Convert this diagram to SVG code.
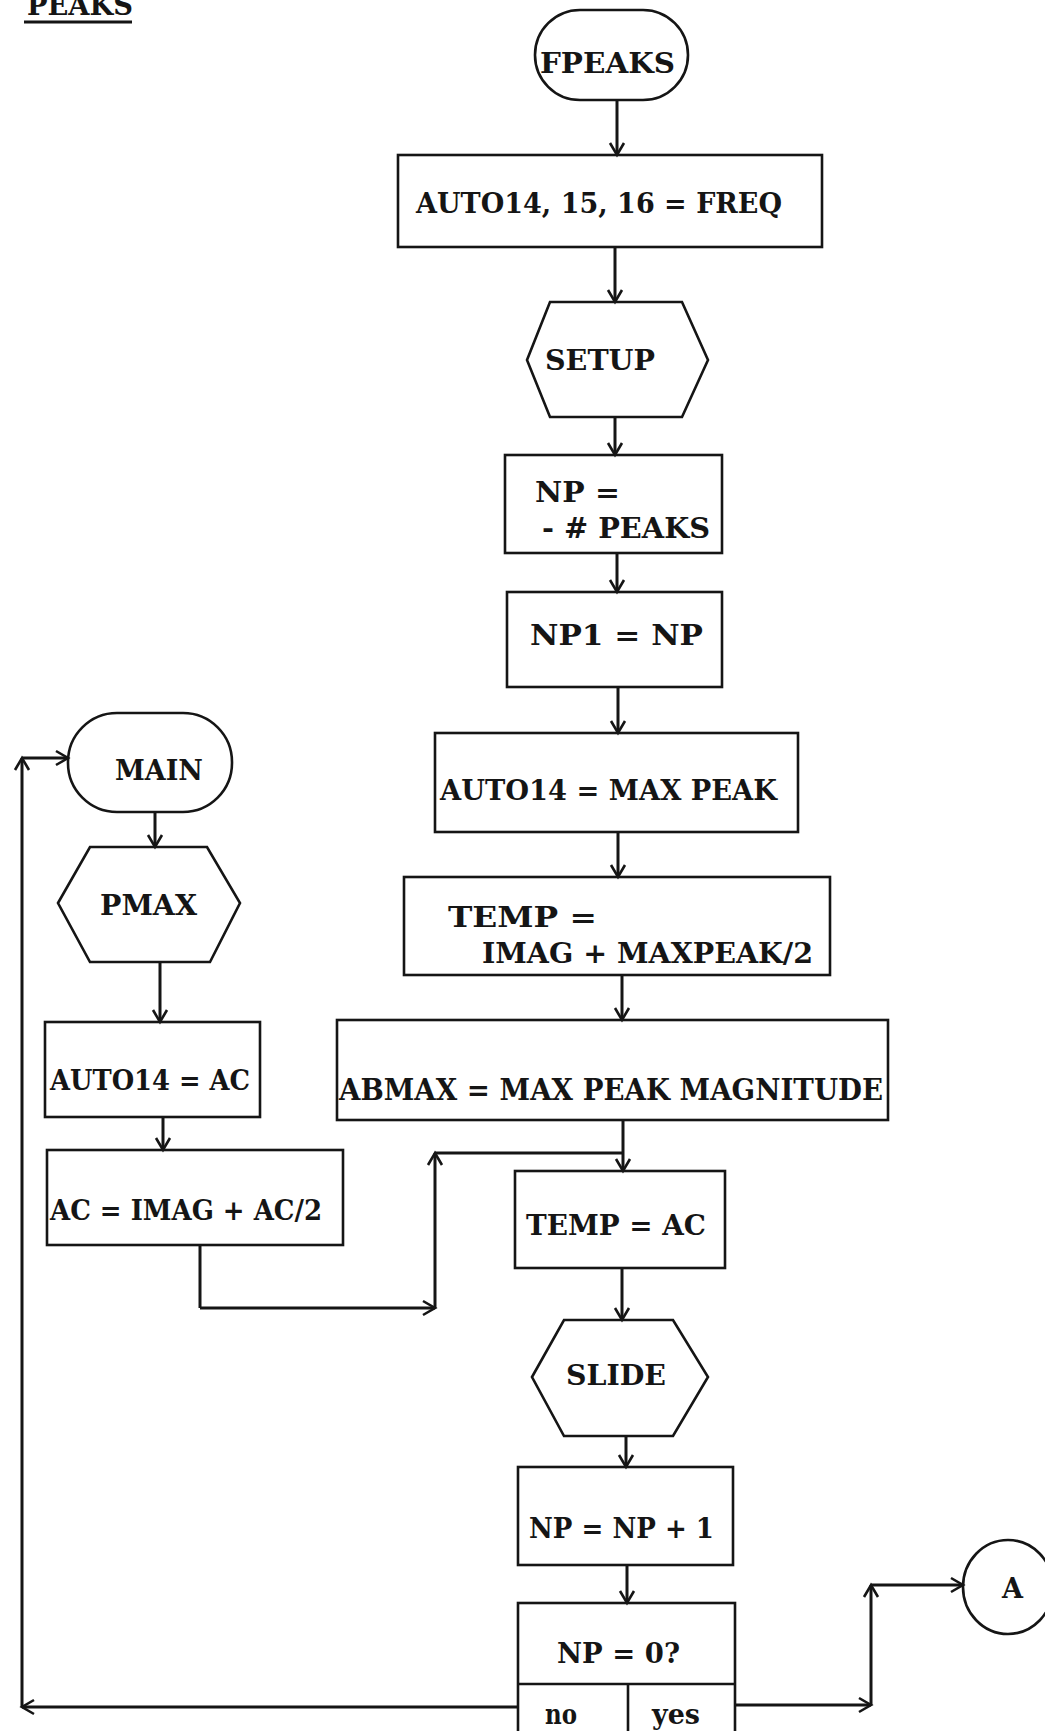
<svg xmlns="http://www.w3.org/2000/svg" width="1045" height="1731" viewBox="0 0 1045 1731">
<style>
  .shape { fill: none; stroke: #151515; stroke-width: 2.6; }
  .conn { fill: none; stroke: #151515; stroke-width: 3; }
  .arr { marker-end: url(#ah); }
  text { font-family: "DejaVu Serif", "Liberation Serif", serif; font-weight: bold; font-size: 27px; fill: #151515; }
  .big { font-size: 29px; }
</style>
<defs>
  <marker id="ah" markerUnits="userSpaceOnUse" markerWidth="16" markerHeight="16" refX="12" refY="7" orient="auto" overflow="visible">
    <path d="M0,0 L12,7 L0,14" fill="none" stroke="#151515" stroke-width="2.6"/>
  </marker>
</defs>
<rect width="1045" height="1731" fill="#ffffff"/>

<g id="title">
  <text x="27" y="15" textLength="106" lengthAdjust="spacingAndGlyphs">PEAKS</text>
  <line x1="24" y1="22" x2="132" y2="22" stroke="#151515" stroke-width="3"/>
</g>

<g id="connectors">
  <line class="conn arr" x1="617" y1="100" x2="617" y2="155"/>
  <line class="conn arr" x1="615" y1="247" x2="615" y2="302"/>
  <line class="conn arr" x1="615" y1="417" x2="615" y2="455"/>
  <line class="conn arr" x1="617" y1="553" x2="617" y2="592"/>
  <line class="conn arr" x1="618" y1="687" x2="618" y2="733"/>
  <line class="conn arr" x1="618" y1="832" x2="618" y2="877"/>
  <line class="conn arr" x1="622" y1="975" x2="622" y2="1020"/>
  <line class="conn arr" x1="623" y1="1120" x2="623" y2="1171"/>
  <polyline class="conn" points="200,1245 200,1308"/>
  <line class="conn arr" x1="200" y1="1308" x2="435" y2="1308"/>
  <line class="conn arr" x1="435" y1="1308" x2="435" y2="1153"/>
  <line class="conn" x1="435" y1="1153" x2="623" y2="1153"/>
  <line class="conn arr" x1="622" y1="1268" x2="622" y2="1320"/>
  <line class="conn arr" x1="626" y1="1436" x2="626" y2="1467"/>
  <line class="conn arr" x1="627" y1="1565" x2="627" y2="1603"/>
  <line class="conn arr" x1="518" y1="1707" x2="22" y2="1707"/>
  <line class="conn arr" x1="22" y1="1707" x2="22" y2="758"/>
  <line class="conn arr" x1="22" y1="758" x2="68" y2="758"/>
  <line class="conn arr" x1="735" y1="1705" x2="871" y2="1705"/>
  <line class="conn arr" x1="871" y1="1705" x2="871" y2="1585"/>
  <line class="conn arr" x1="871" y1="1585" x2="963" y2="1585"/>
  <line class="conn arr" x1="155" y1="812" x2="155" y2="847"/>
  <line class="conn arr" x1="160" y1="962" x2="160" y2="1022"/>
  <line class="conn arr" x1="163" y1="1117" x2="163" y2="1150"/>
</g>

<g id="fpeaks">
  <rect class="shape" x="535" y="10" width="153" height="90" rx="45" ry="45"/>
  <text x="540" y="73" textLength="135" lengthAdjust="spacingAndGlyphs">FPEAKS</text>
</g>
<g id="auto141516">
  <rect class="shape" x="398" y="155" width="424" height="92"/>
  <text x="416" y="213" textLength="366" lengthAdjust="spacingAndGlyphs">AUTO14, 15, 16 = FREQ</text>
</g>
<g id="setup">
  <polygon class="shape" points="527,360 550,302 682,302 708,360 682,417 550,417"/>
  <text x="545" y="370" textLength="110" lengthAdjust="spacingAndGlyphs">SETUP</text>
</g>
<g id="np-peaks">
  <rect class="shape" x="505" y="455" width="217" height="98"/>
  <text x="535" y="502" textLength="85" lengthAdjust="spacingAndGlyphs">NP =</text>
  <text x="542" y="538" textLength="168" lengthAdjust="spacingAndGlyphs">- # PEAKS</text>
</g>
<g id="np1">
  <rect class="shape" x="507" y="592" width="215" height="95"/>
  <text x="530" y="645" textLength="173" lengthAdjust="spacingAndGlyphs">NP1 = NP</text>
</g>
<g id="auto14-maxpeak">
  <rect class="shape" x="435" y="733" width="363" height="99"/>
  <text x="440" y="800" textLength="337" lengthAdjust="spacingAndGlyphs">AUTO14 = MAX PEAK</text>
</g>
<g id="temp-imag">
  <rect class="shape" x="404" y="877" width="426" height="98"/>
  <text x="448" y="927" textLength="149" lengthAdjust="spacingAndGlyphs">TEMP =</text>
  <text x="482" y="963" textLength="331" lengthAdjust="spacingAndGlyphs">IMAG + MAXPEAK/2</text>
</g>
<g id="abmax">
  <rect class="shape" x="337" y="1020" width="551" height="100"/>
  <text class="big" x="339" y="1100" textLength="544" lengthAdjust="spacingAndGlyphs">ABMAX = MAX PEAK MAGNITUDE</text>
</g>
<g id="temp-ac">
  <rect class="shape" x="515" y="1171" width="210" height="97"/>
  <text x="526" y="1235" textLength="180" lengthAdjust="spacingAndGlyphs">TEMP = AC</text>
</g>
<g id="slide">
  <polygon class="shape" points="532,1377 564,1320 673,1320 708,1377 673,1436 564,1436"/>
  <text x="566" y="1385" textLength="100" lengthAdjust="spacingAndGlyphs">SLIDE</text>
</g>
<g id="np-inc">
  <rect class="shape" x="518" y="1467" width="215" height="98"/>
  <text x="529" y="1538" textLength="185" lengthAdjust="spacingAndGlyphs">NP = NP + 1</text>
</g>
<g id="np-zero">
  <rect class="shape" x="518" y="1603" width="217" height="140"/>
  <line class="shape" x1="518" y1="1684" x2="735" y2="1684"/>
  <line class="shape" x1="628" y1="1684" x2="628" y2="1743"/>
  <text x="557" y="1663" textLength="123" lengthAdjust="spacingAndGlyphs">NP = 0?</text>
  <text x="545" y="1724" textLength="32" lengthAdjust="spacingAndGlyphs">no</text>
  <text x="652" y="1724" textLength="48" lengthAdjust="spacingAndGlyphs">yes</text>
</g>
<g id="main">
  <rect class="shape" x="68" y="713" width="164" height="99" rx="49" ry="49"/>
  <text x="115" y="780" textLength="88" lengthAdjust="spacingAndGlyphs">MAIN</text>
</g>
<g id="pmax">
  <polygon class="shape" points="58,903 90,847 207,847 240,903 210,962 90,962"/>
  <text x="100" y="915" textLength="97" lengthAdjust="spacingAndGlyphs">PMAX</text>
</g>
<g id="auto14-ac">
  <rect class="shape" x="45" y="1022" width="215" height="95"/>
  <text x="50" y="1090" textLength="200" lengthAdjust="spacingAndGlyphs">AUTO14 = AC</text>
</g>
<g id="ac-imag">
  <rect class="shape" x="47" y="1150" width="296" height="95"/>
  <text x="50" y="1220" textLength="272" lengthAdjust="spacingAndGlyphs">AC = IMAG + AC/2</text>
</g>
<g id="connector-a">
  <ellipse class="shape" cx="1008" cy="1587" rx="45" ry="47"/>
  <text x="1002" y="1598" textLength="21" lengthAdjust="spacingAndGlyphs">A</text>
</g>
</svg>
